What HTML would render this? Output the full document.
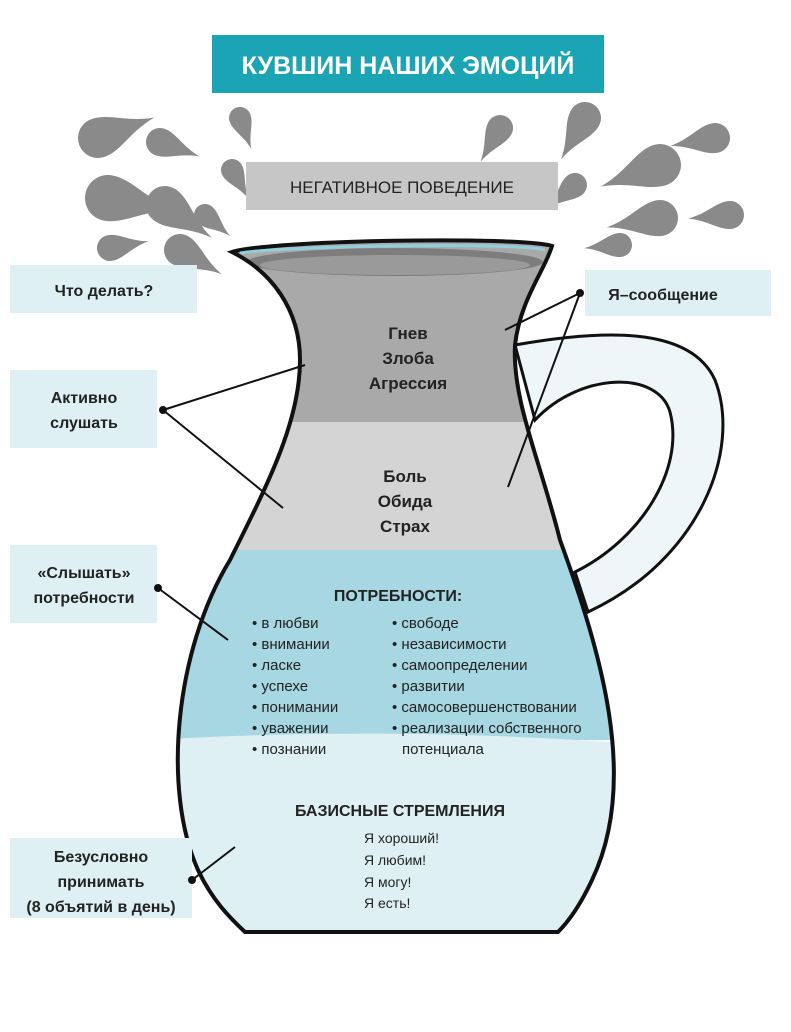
<!DOCTYPE html>
<html><head><meta charset="utf-8"><style>
body{margin:0;background:#fff;width:791px;height:1027px;overflow:hidden;font-family:"Liberation Sans",sans-serif}
svg text{font-family:"Liberation Sans","DejaVu Sans",sans-serif}
</style></head><body>
<svg width="791" height="1027" viewBox="0 0 791 1027" xmlns="http://www.w3.org/2000/svg">
<defs>
<path id="d" d="M3,0 C1.6,-0.25 0.9,-1 0,-1 A1,1 0 0 0 0,1 C0.9,1 1.6,0.25 3,0Z" fill="#8a8a8a"/>
<clipPath id="jc"><path d="M232,252 C270,240 520,236 552,246 C545,270 520,300 515,345 C512,400 540,460 560,540 C600,650 640,780 592,880 C578,910 565,925 558,932 L245,932 C230,918 212,900 198,870 C162,790 175,650 230,560 C270,480 300,420 300,360 C300,310 272,272 232,252Z"/></clipPath>
</defs>
<rect width="791" height="1027" fill="#fff"/>
<g>
<use href="#d" transform="translate(98,138) rotate(-20) scale(20)"/>
<use href="#d" transform="translate(108,198) rotate(10) scale(23)"/>
<use href="#d" transform="translate(110,248) rotate(-10) scale(13)"/>
<use href="#d" transform="translate(160,142) rotate(20) scale(14)"/>
<use href="#d" transform="translate(165,205) rotate(35) scale(19)"/>
<use href="#d" transform="translate(232,170) rotate(60) scale(11)"/>
<use href="#d" transform="translate(205,215) rotate(40) scale(11)"/>
<use href="#d" transform="translate(240,118) rotate(70) scale(11)"/>
<use href="#d" transform="translate(180,250) rotate(30) scale(16)"/>
<use href="#d" transform="translate(585,118) rotate(120) scale(16)"/>
<use href="#d" transform="translate(660,165) rotate(160) scale(21)"/>
<use href="#d" transform="translate(715,138) rotate(170) scale(15)"/>
<use href="#d" transform="translate(660,218) rotate(170) scale(18)"/>
<use href="#d" transform="translate(730,215) rotate(175) scale(14)"/>
<use href="#d" transform="translate(575,185) rotate(140) scale(12)"/>
<use href="#d" transform="translate(500,128) rotate(120) scale(13)"/>
<use href="#d" transform="translate(620,245) rotate(175) scale(12)"/>
</g>
<rect x="212" y="35" width="392" height="58" fill="#1ba4b4"/>
<text x="408" y="74" text-anchor="middle" font-size="25" font-weight="bold" fill="#fff">КУВШИН НАШИХ ЭМОЦИЙ</text>
<rect x="246" y="162" width="312" height="48" fill="#c6c6c6"/>
<text x="402" y="193" text-anchor="middle" font-size="17" fill="#222">НЕГАТИВНОЕ ПОВЕДЕНИЕ</text>
<path d="M515,345 C600,330 690,325 715,380 C742,450 700,560 588,612 L575,572 C640,540 685,470 670,412 C658,370 580,372 535,420Z" fill="#eef6f8" stroke="#111" stroke-width="3"/>
<g clip-path="url(#jc)">
<rect x="150" y="230" width="500" height="192" fill="#a9a9a9"/>
<rect x="150" y="422" width="500" height="128" fill="#d4d4d4"/>
<rect x="150" y="550" width="500" height="190" fill="#a6d7e2"/>
<path d="M150,740 Q400,725 650,745 L650,940 L150,940Z" fill="#dff0f4"/>
<ellipse cx="395" cy="262" rx="148" ry="14" fill="#7d7d7d"/>
<ellipse cx="395" cy="265" rx="135" ry="10" fill="#9a9a9a"/>
</g>
<path d="M232,252 C270,240 520,236 552,246 C545,270 520,300 515,345 C512,400 540,460 560,540 C600,650 640,780 592,880 C578,910 565,925 558,932 L245,932 C230,918 212,900 198,870 C162,790 175,650 230,560 C270,480 300,420 300,360 C300,310 272,272 232,252Z" fill="none" stroke="#111" stroke-width="4"/>
<path d="M240,253 C280,246 520,242 545,250" fill="none" stroke="#8fd0dd" stroke-width="3"/>
<g font-size="17" font-weight="bold" fill="#222" text-anchor="middle">
<text x="408" y="339">Гнев</text><text x="408" y="364">Злоба</text><text x="408" y="389">Агрессия</text>
<text x="405" y="482">Боль</text><text x="405" y="507">Обида</text><text x="405" y="532">Страх</text>
<text x="398" y="601" font-size="16">ПОТРЕБНОСТИ:</text>
<text x="400" y="816" font-size="16">БАЗИСНЫЕ СТРЕМЛЕНИЯ</text>
</g>
<g font-size="15" fill="#222">
<text x="252" y="628">• в любви</text><text x="252" y="649">• внимании</text><text x="252" y="670">• ласке</text><text x="252" y="691">• успехе</text><text x="252" y="712">• понимании</text><text x="252" y="733">• уважении</text><text x="252" y="754">• познании</text>
<text x="392" y="628">• свободе</text><text x="392" y="649">• независимости</text><text x="392" y="670">• самоопределении</text><text x="392" y="691">• развитии</text><text x="392" y="712">• самосовершенствовании</text><text x="392" y="733">• реализации собственного</text><text x="402" y="754">потенциала</text>
</g>
<g font-size="14" fill="#222">
<text x="364" y="843">Я хороший!</text><text x="364" y="865">Я любим!</text><text x="364" y="887">Я могу!</text><text x="364" y="908">Я есть!</text>
</g>
<g fill="#dff0f5">
<rect x="10" y="265" width="187" height="48"/>
<rect x="10" y="370" width="147" height="78"/>
<rect x="10" y="545" width="147" height="78"/>
<rect x="10" y="838" width="182" height="80"/>
<rect x="585" y="270" width="186" height="46"/>
</g>
<g font-size="16" font-weight="bold" fill="#222" text-anchor="middle">
<text x="104" y="296">Что делать?</text>
<text x="84" y="403">Активно</text><text x="84" y="428">слушать</text>
<text x="84" y="578">«Слышать»</text><text x="84" y="603">потребности</text>
<text x="101" y="862">Безусловно</text><text x="101" y="887">принимать</text><text x="101" y="912">(8 объятий в день)</text>
<text x="663" y="300">Я–сообщение</text>
</g>
<g stroke="#111" stroke-width="2" fill="none">
<path d="M163,410 L305,365 M163,410 L283,508"/>
<path d="M158,588 L228,640"/>
<path d="M192,880 L235,847"/>
<path d="M580,293 L505,330 M580,293 L508,487"/>
</g>
<g fill="#111">
<circle cx="163" cy="410" r="4"/><circle cx="158" cy="588" r="4"/><circle cx="192" cy="880" r="4"/><circle cx="580" cy="293" r="4"/>
</g>
</svg>
</body></html>
